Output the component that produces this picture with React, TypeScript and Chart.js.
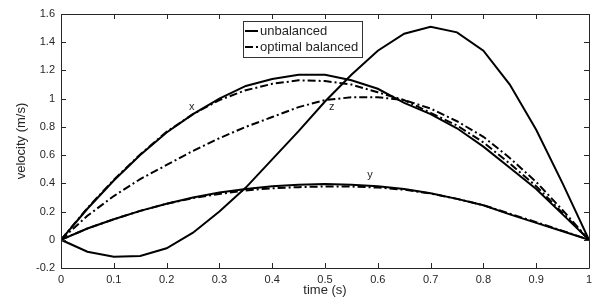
import React, { useEffect, useRef } from "react";
import { Chart, registerables } from "chart.js";

Chart.register(...registerables);

// ---- data ----
const time = [0, 0.05, 0.1, 0.15, 0.2, 0.25, 0.3, 0.35, 0.4, 0.45, 0.5, 0.55, 0.6, 0.65, 0.7, 0.75, 0.8, 0.85, 0.9, 0.95, 1];

const xUnbalanced = [0, 0.22, 0.42, 0.6, 0.76, 0.89, 1.0, 1.09, 1.14, 1.17, 1.17, 1.13, 1.07, 0.97, 0.89, 0.79, 0.66, 0.51, 0.36, 0.18, 0];
const xBalanced = [0, 0.225, 0.425, 0.605, 0.765, 0.89, 0.99, 1.06, 1.105, 1.13, 1.125, 1.1, 1.045, 0.99, 0.9, 0.81, 0.69, 0.54, 0.38, 0.19, 0];
const yUnbalanced = [0, 0.08, 0.145, 0.205, 0.255, 0.3, 0.335, 0.36, 0.38, 0.39, 0.395, 0.39, 0.38, 0.36, 0.33, 0.29, 0.245, 0.18, 0.12, 0.06, 0];
const yBalanced = [0, 0.08, 0.145, 0.205, 0.255, 0.295, 0.325, 0.35, 0.365, 0.373, 0.378, 0.377, 0.37, 0.355, 0.328, 0.29, 0.245, 0.185, 0.125, 0.063, 0];
const zUnbalanced = [0, -0.085, -0.12, -0.115, -0.06, 0.05, 0.2, 0.37, 0.57, 0.77, 0.98, 1.17, 1.34, 1.46, 1.51, 1.47, 1.34, 1.1, 0.78, 0.4, 0];
const zBalanced = [0, 0.17, 0.31, 0.43, 0.53, 0.63, 0.72, 0.8, 0.87, 0.94, 0.99, 1.01, 1.01, 0.99, 0.93, 0.84, 0.73, 0.58, 0.41, 0.21, 0];

const xTicks = [0, 0.1, 0.2, 0.3, 0.4, 0.5, 0.6, 0.7, 0.8, 0.9, 1];
const xTickLabels = ["0", "0.1", "0.2", "0.3", "0.4", "0.5", "0.6", "0.7", "0.8", "0.9", "1"];
const yTicks = [-0.2, 0, 0.2, 0.4, 0.6, 0.8, 1, 1.2, 1.4, 1.6];
const yTickLabels = ["-0.2", "0", "0.2", "0.4", "0.6", "0.8", "1", "1.2", "1.4", "1.6"];

const curveLabels = ["x", "y", "z"];
const curveLabelT = [0.2475, 0.585, 0.513];
const curveLabelV = [0.943, 0.459, 0.943];

const legendLabels = ["unbalanced", "optimal balanced"];

const FONT = "'Liberation Sans', Arial, Helvetica, sans-serif";
const TEXT = "#262626";
const DASHDOT = [8, 3, 2, 3];

const pts = (vals: number[]) => time.map((t, i) => ({ x: t, y: vals[i] }));

const axesBoxPlugin = {
  id: "axesBox",
  afterDatasetsDraw(chart: any) {
    const { ctx, chartArea: a, scales } = chart;
    ctx.save();
    ctx.strokeStyle = TEXT;
    ctx.lineWidth = 1;
    ctx.beginPath();
    ctx.rect(Math.round(a.left) + 0.5, Math.round(a.top) + 0.5, Math.round(a.right - a.left), Math.round(a.bottom - a.top));
    ctx.stroke();
    const L = 5;
    ctx.beginPath();
    xTicks.forEach((t) => {
      const px = Math.round(scales.x.getPixelForValue(t)) + 0.5;
      ctx.moveTo(px, a.bottom);
      ctx.lineTo(px, a.bottom - L);
      ctx.moveTo(px, a.top);
      ctx.lineTo(px, a.top + L);
    });
    yTicks.forEach((v) => {
      const py = Math.round(scales.y.getPixelForValue(v)) + 0.5;
      ctx.moveTo(a.left, py);
      ctx.lineTo(a.left + L, py);
      ctx.moveTo(a.right, py);
      ctx.lineTo(a.right - L, py);
    });
    ctx.stroke();
    ctx.restore();
  },
};

const curveLabelPlugin = {
  id: "curveLabels",
  afterDatasetsDraw(chart: any) {
    const { ctx, scales } = chart;
    ctx.save();
    ctx.fillStyle = TEXT;
    ctx.font = `11px ${FONT}`;
    ctx.textAlign = "center";
    ctx.textBaseline = "middle";
    curveLabels.forEach((s, i) => {
      ctx.fillText(s, scales.x.getPixelForValue(curveLabelT[i]), scales.y.getPixelForValue(curveLabelV[i]));
    });
    ctx.restore();
  },
};

const legendPlugin = {
  id: "boxLegend",
  afterDraw(chart: any) {
    const { ctx, chartArea: a } = chart;
    const left = a.left + 182;
    const top = a.top + 7;
    const w = 119;
    const h = 36;
    ctx.save();
    ctx.fillStyle = "#ffffff";
    ctx.fillRect(left, top, w, h);
    ctx.strokeStyle = "#333333";
    ctx.lineWidth = 1;
    ctx.strokeRect(left + 0.5, top + 0.5, w, h);
    ctx.font = `13px ${FONT}`;
    ctx.textBaseline = "middle";
    ctx.textAlign = "left";
    legendLabels.forEach((lbl, i) => {
      const cy = top + 10 + i * 16;
      ctx.strokeStyle = "#000";
      ctx.lineWidth = 2;
      ctx.setLineDash(i === 0 ? [] : DASHDOT);
      ctx.beginPath();
      ctx.moveTo(left + 2, cy);
      ctx.lineTo(left + 15, cy);
      ctx.stroke();
      ctx.setLineDash([]);
      ctx.fillStyle = TEXT;
      ctx.fillText(lbl, left + 17, cy);
    });
    ctx.restore();
  },
};

export default function App() {
  const ref = useRef<HTMLCanvasElement | null>(null);

  useEffect(() => {
    if (!ref.current) return;
    const line = (label: string, vals: number[], dashed: boolean) => ({
      label,
      data: pts(vals),
      borderColor: "#000",
      backgroundColor: "#000",
      borderWidth: 2,
      borderDash: dashed ? DASHDOT : [],
      pointRadius: 0,
      tension: 0,
      fill: false,
    });
    const chart = new Chart(ref.current, {
      type: "line",
      data: {
        datasets: [
          line("x " + legendLabels[0], xUnbalanced, false),
          line("x " + legendLabels[1], xBalanced, true),
          line("y " + legendLabels[0], yUnbalanced, false),
          line("y " + legendLabels[1], yBalanced, true),
          line("z " + legendLabels[0], zUnbalanced, false),
          line("z " + legendLabels[1], zBalanced, true),
        ],
      },
      options: {
        animation: false,
        responsive: true,
        maintainAspectRatio: false,
        layout: { padding: { top: 14, right: 14, left: 0, bottom: 0 } },
        plugins: { legend: { display: false }, tooltip: { enabled: false } },
        scales: {
          x: {
            type: "linear",
            min: 0,
            max: 1,
            grid: { display: false, drawTicks: false },
            border: { display: false },
            afterBuildTicks: (s: any) => {
              s.ticks = xTicks.map((v) => ({ value: v }));
            },
            afterFit: (s: any) => {
              s.height = 33;
            },
            ticks: {
              padding: 5,
              maxRotation: 0,
              autoSkip: false,
              color: TEXT,
              font: { family: FONT, size: 11 },
              callback: (v: any) => {
                const i = xTicks.findIndex((t) => Math.abs(t - v) < 1e-9);
                return i >= 0 ? xTickLabels[i] : "";
              },
            },
            title: {
              display: true,
              text: "time (s)",
              color: TEXT,
              font: { family: FONT, size: 13 },
              padding: { top: 0, bottom: 3 },
            },
          },
          y: {
            type: "linear",
            min: -0.2,
            max: 1.6,
            grid: { display: false, drawTicks: false },
            border: { display: false },
            afterBuildTicks: (s: any) => {
              s.ticks = yTicks.map((v) => ({ value: v }));
            },
            afterFit: (s: any) => {
              s.width = 61;
            },
            ticks: {
              padding: 6,
              autoSkip: false,
              color: TEXT,
              font: { family: FONT, size: 11 },
              callback: (v: any) => {
                const i = yTicks.findIndex((t) => Math.abs(t - v) < 1e-9);
                return i >= 0 ? yTickLabels[i] : "";
              },
            },
            title: {
              display: true,
              text: "velocity (m/s)",
              color: TEXT,
              font: { family: FONT, size: 13 },
              padding: { top: 14, bottom: 0 },
            },
          },
        },
      },
      plugins: [axesBoxPlugin, curveLabelPlugin, legendPlugin],
    } as any);
    return () => chart.destroy();
  }, []);

  return (
    <div style={{ position: "fixed", left: 0, top: 0, width: 603, height: 301, background: "#fff" }}>
      <canvas ref={ref} />
    </div>
  );
}
